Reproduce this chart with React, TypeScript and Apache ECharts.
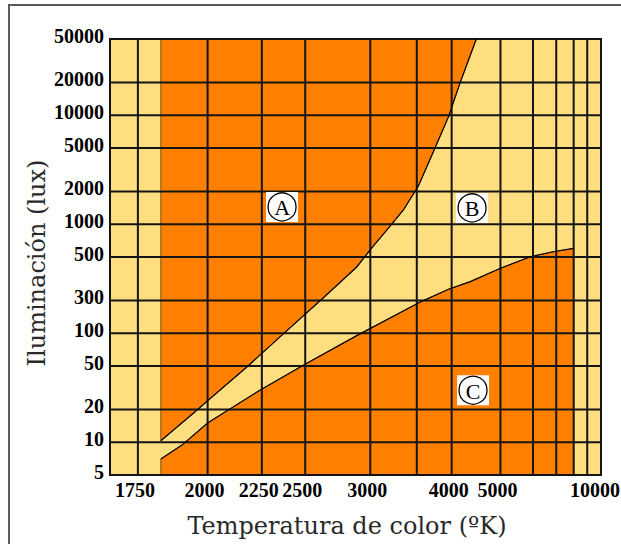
import React, { useEffect, useRef } from "react";
import * as echarts from "echarts";

// Colour temperature (K) and illuminance (lux) – comfort zones
const TEMP_GRID = [1750, 2000, 2250, 2500, 3000, 3500, 4000, 5000, 6000, 7000, 8000, 9000];
const TEMP_TICKS = [1750, 2000, 2250, 2500, 3000, 4000, 5000, 10000];
const TEMP_TICK_LABELS = ["1750", "2000", "2250", "2500", "3000", "4000", "5000", "10000"];

const LUX_GRID = [10, 20, 50, 100, 200, 500, 1000, 2000, 5000, 10000, 20000];
const LUX_TICKS = [5, 10, 20, 50, 100, 200, 500, 1000, 2000, 5000, 10000, 20000, 50000];
const LUX_TICK_LABELS = ["5", "10", "20", "50", "100", "300", "500", "1000", "2000", "5000", "10000", "20000", "50000"];

// Axis extents (mired = 1e6 / K), illuminance log range
const MIRED_MIN = 97;
const MIRED_MAX = 600;
const LUX_MIN = 5;
const LUX_MAX = 50000;

// Upper boundary (zone A / zone B)
const UPPER_T = [1825, 1950, 2000, 2175, 2350, 2620, 2880, 3010, 3190, 3340, 3520, 3720, 3950, 4140, 4450];
const UPPER_LUX = [10.3, 19, 24, 49, 93, 210, 405, 600, 950, 1350, 2240, 4600, 9700, 19600, 50000];

// Lower boundary (zone B / zone C)
const LOWER_T = [1825, 1900, 2000, 2240, 2490, 2880, 3550, 3950, 4330, 5000, 5900, 6850, 8000];
const LOWER_LUX = [7, 9.4, 15, 30, 51, 95, 194, 253, 297, 394, 503, 559, 600];

// Zone limits along the temperature axis
const ZONE_T_START = 1825;
const ZONE_C_T_END = 8000;

// Zone markers
const ZONE_NAMES = ["A", "B", "C"];
const ZONE_T = [2360, 4365, 4384];
const ZONE_LUX = [1440, 1410, 30];

const YELLOW = "#FFDE80";
const ORANGE = "#FF8000";
const GRID_COLOR = "#141414";
const TICK_FONT = 'bold 20px "Liberation Serif", "Times New Roman", serif';
const TITLE_FONT = '24px "DejaVu Serif", serif';

const toMired = (t: number) => 1e6 / t;

function text(x: number, y: number, str: string, font: string, align: string, vAlign: string, extra: any = {}) {
  return {
    type: "text",
    x,
    y,
    ...extra,
    style: {
      text: str,
      font,
      fill: "#000",
      align,
      verticalAlign: vAlign,
      textAlign: align,
      textVerticalAlign: vAlign,
    },
  };
}

export default function App() {
  const ref = useRef<HTMLDivElement>(null);

  useEffect(() => {
    if (!ref.current) return;
    const chart = echarts.init(ref.current, undefined, { renderer: "svg" });
    const pt = (api: any, t: number, lux: number) => api.coord([toMired(t), lux]);

    const option: any = {
      animation: false,
      backgroundColor: "#ffffff",
      grid: {
        left: 110,
        top: 39,
        right: 20,
        bottom: 69,
        show: true,
        backgroundColor: YELLOW,
        borderWidth: 0,
      },
      xAxis: {
        type: "value",
        min: MIRED_MIN,
        max: MIRED_MAX,
        inverse: true,
        show: false,
        splitLine: { show: false },
      },
      yAxis: {
        type: "log",
        logBase: 10,
        min: LUX_MIN,
        max: LUX_MAX,
        show: false,
        splitLine: { show: false },
      },
      graphic: [
        {
          type: "rect",
          shape: { x: 9, y: 5, width: 1000, height: 1000 },
          style: { fill: "none", stroke: "#5a5a5a", lineWidth: 2 },
          z: 100,
        },
        {
          type: "text",
          x: 37,
          y: 263,
          rotation: Math.PI / 2,
          style: {
            text: "Iluminación (lux)",
            font: TITLE_FONT,
            fill: "#2a2a2a",
            textAlign: "center",
            textVerticalAlign: "middle",
            align: "center",
            verticalAlign: "middle",
          },
          z: 100,
        },
        {
          type: "text",
          x: 347,
          y: 526,
          style: {
            text: "Temperatura de color (ºK)",
            font: TITLE_FONT,
            fill: "#2a2a2a",
            textAlign: "center",
            textVerticalAlign: "middle",
            align: "center",
            verticalAlign: "middle",
          },
          z: 100,
        },
      ],
      series: [
        {
          // orange zones A and C
          type: "custom",
          z: 1,
          data: [[300, 100]],
          renderItem: (_params: any, api: any) => {
            const zoneA = [pt(api, ZONE_T_START, LUX_MAX)];
            UPPER_T.forEach((t, i) => zoneA.push(pt(api, t, UPPER_LUX[i])));
            const zoneC = [pt(api, ZONE_T_START, LUX_MIN)];
            LOWER_T.forEach((t, i) => zoneC.push(pt(api, t, LOWER_LUX[i])));
            zoneC.push(pt(api, ZONE_C_T_END, LUX_MIN));
            const style = { fill: ORANGE, stroke: "#5a3a10", lineWidth: 0.8 };
            return {
              type: "group",
              children: [
                { type: "polygon", shape: { points: zoneA }, style },
                { type: "polygon", shape: { points: zoneC }, style },
              ],
            };
          },
        },
        {
          // grid lines and plot frame
          type: "custom",
          z: 2,
          data: [[300, 100]],
          renderItem: (params: any, api: any) => {
            const cs = params.coordSys;
            const lineStyle = { stroke: GRID_COLOR, lineWidth: 2 };
            const children: any[] = [];
            TEMP_GRID.forEach((t) => {
              const x = pt(api, t, LUX_MIN)[0];
              children.push({ type: "line", shape: { x1: x, y1: cs.y, x2: x, y2: cs.y + cs.height }, style: lineStyle });
            });
            LUX_GRID.forEach((l) => {
              const y = api.coord([MIRED_MIN, l])[1];
              children.push({ type: "line", shape: { x1: cs.x, y1: y, x2: cs.x + cs.width, y2: y }, style: lineStyle });
            });
            children.push({
              type: "rect",
              shape: { x: cs.x, y: cs.y, width: cs.width, height: cs.height },
              style: { fill: "none", stroke: GRID_COLOR, lineWidth: 2 },
            });
            return { type: "group", children };
          },
        },
        {
          // zone boundary curves
          type: "custom",
          z: 3,
          data: [[300, 100]],
          renderItem: (_params: any, api: any) => {
            const up = UPPER_T.map((t, i) => pt(api, t, UPPER_LUX[i]));
            const lo = LOWER_T.map((t, i) => pt(api, t, LOWER_LUX[i]));
            const style = { stroke: "#000", lineWidth: 1.2, fill: "none" };
            return {
              type: "group",
              children: [
                { type: "polyline", shape: { points: up }, style },
                { type: "polyline", shape: { points: lo }, style },
              ],
            };
          },
        },
        {
          // tick labels and zone markers
          type: "custom",
          z: 4,
          data: [[300, 100]],
          renderItem: (params: any, api: any) => {
            const cs = params.coordSys;
            const children: any[] = [];
            LUX_TICKS.forEach((l, i) => {
              const y = api.coord([MIRED_MIN, l])[1];
              children.push(text(cs.x - 6, y - 3, LUX_TICK_LABELS[i], TICK_FONT, "right", "middle"));
            });
            TEMP_TICKS.forEach((t, i) => {
              const x = pt(api, t, LUX_MIN)[0];
              children.push(text(x - 3, cs.y + cs.height + 5, TEMP_TICK_LABELS[i], TICK_FONT, "center", "top"));
            });
            ZONE_NAMES.forEach((name, i) => {
              const [cx, cy] = pt(api, ZONE_T[i], ZONE_LUX[i]);
              children.push({
                type: "rect",
                shape: { x: cx - 16, y: cy - 15, width: 32, height: 30 },
                style: { fill: "#fff" },
              });
              children.push({
                type: "circle",
                shape: { cx, cy, r: 14 },
                style: { fill: "#fff", stroke: "#000", lineWidth: 1.3 },
              });
              children.push(text(cx, cy + 1, name, '22px "Liberation Serif", serif', "center", "middle"));
            });
            return { type: "group", children };
          },
        },
      ],
    };

    chart.setOption(option);
    return () => chart.dispose();
  }, []);

  return (
    <div
      ref={ref}
      style={{ position: "fixed", left: 0, top: 0, width: 621, height: 544, background: "#fff" }}
    />
  );
}
